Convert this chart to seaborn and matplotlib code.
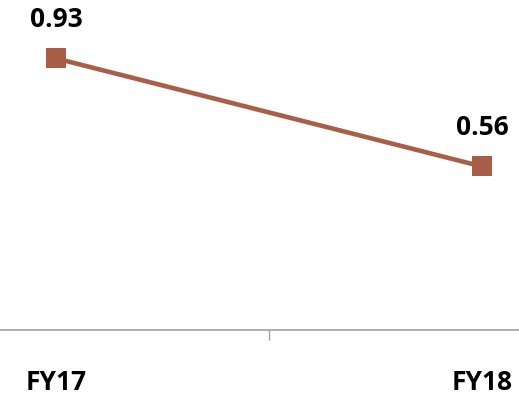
import matplotlib
matplotlib.use("Agg")
import matplotlib.pyplot as plt
import seaborn as sns
import pandas as pd

categories = ["FY17", "FY18"]
values = [0.93, 0.56]
labels = ["0.93", "0.56"]

sns.set_theme(style="white")
plt.rcParams['font.family'] = ['Open Sans', 'DejaVu Sans']

color = "#A85E47"
df = pd.DataFrame({"x": range(len(categories)), "y": values})

fig = plt.figure(figsize=(5.19, 3.95), dpi=100)
ax = fig.add_axes([0, 65/395, 1, 330/395])
sns.lineplot(data=df, x="x", y="y", ax=ax, color=color, linewidth=3.3,
             marker="s", markersize=14.5, markeredgewidth=0, markerfacecolor=color)

for i, (v, t) in enumerate(zip(values, labels)):
    ax.annotate(t, (i, v), xytext=(0, 28), textcoords="offset points",
                ha="center", va="center", fontsize=19, fontweight="bold", color="black")

ax.set_xlim(-56/426, 1 + 37/426)
ax.set_ylim(0, 1.13)
ax.set_xticks(range(len(categories)))
ax.set_xticklabels(categories, fontsize=19, fontweight="bold")
ax.tick_params(axis="x", which="major", length=0, pad=28, colors="black")
ax.set_xticks([0.5], minor=True)
ax.tick_params(axis="x", which="minor", length=7, width=1, color="#A0A0A0", direction="out", bottom=True)
ax.set_yticks([])
ax.set_xlabel("")
ax.set_ylabel("")
for s in ["top", "left", "right"]:
    ax.spines[s].set_visible(False)
ax.spines["bottom"].set_color("#A0A0A0")
ax.spines["bottom"].set_linewidth(1.2)
ax.patch.set_alpha(0)

fig.savefig("out.png", dpi=100)
